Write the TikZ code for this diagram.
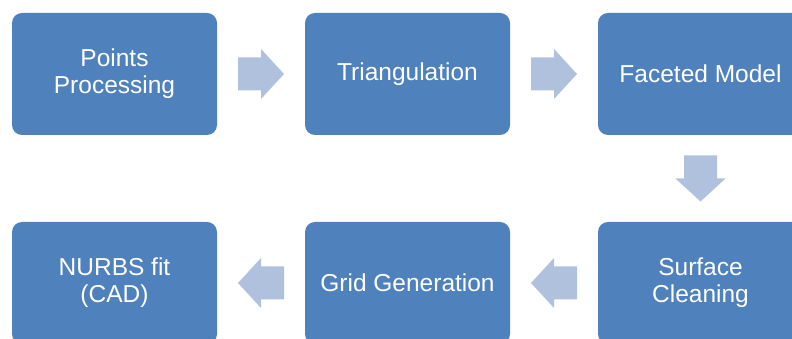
\documentclass[tikz,border=0pt]{standalone}
\usepackage{fontspec}
\setmainfont{Liberation Sans}
\usetikzlibrary{calc}
\definecolor{boxblue}{HTML}{4F81BD}
\definecolor{arrowblue}{HTML}{B0C1DE}
\tikzset{
  stepbox/.style={rectangle, rounded corners=10pt, fill=boxblue, text=white,
    minimum width=205pt, minimum height=122pt, inner sep=0pt, align=center,
    font=\fontsize{24.5}{27}\selectfont},
  barrow/.pic={\fill[arrowblue] (-23,-16.5) -- (0,-16.5) -- (0,-25) -- (23,0)
      -- (0,25) -- (0,16.5) -- (-23,16.5) -- cycle;}
}
\begin{document}
\begin{tikzpicture}[x=1pt,y=1pt]
\useasboundingbox (0,0) rectangle (792,339);
\node[stepbox] (pp) at (114.5,265) {Points\\Processing};
\node[stepbox] (tri) at (407.5,265) {Triangulation};
\node[stepbox] (fm) at (700.5,265) {Faceted Model};
\node[stepbox] (sc) at (700.5,56) {Surface\\Cleaning};
\node[stepbox] (gg) at (407.5,56) {Grid Generation};
\node[stepbox] (nf) at (114.5,56) {NURBS fit\\(CAD)};
\pic at ($(pp.east)!0.5!(tri.west)$) {barrow};
\pic at ($(tri.east)!0.5!(fm.west)$) {barrow};
\pic[rotate=-90] at ($(fm.south)!0.5!(sc.north)$) {barrow};
\pic[rotate=180] at ($(sc.west)!0.5!(gg.east)$) {barrow};
\pic[rotate=180] at ($(gg.west)!0.5!(nf.east)$) {barrow};
\end{tikzpicture}
\end{document}
